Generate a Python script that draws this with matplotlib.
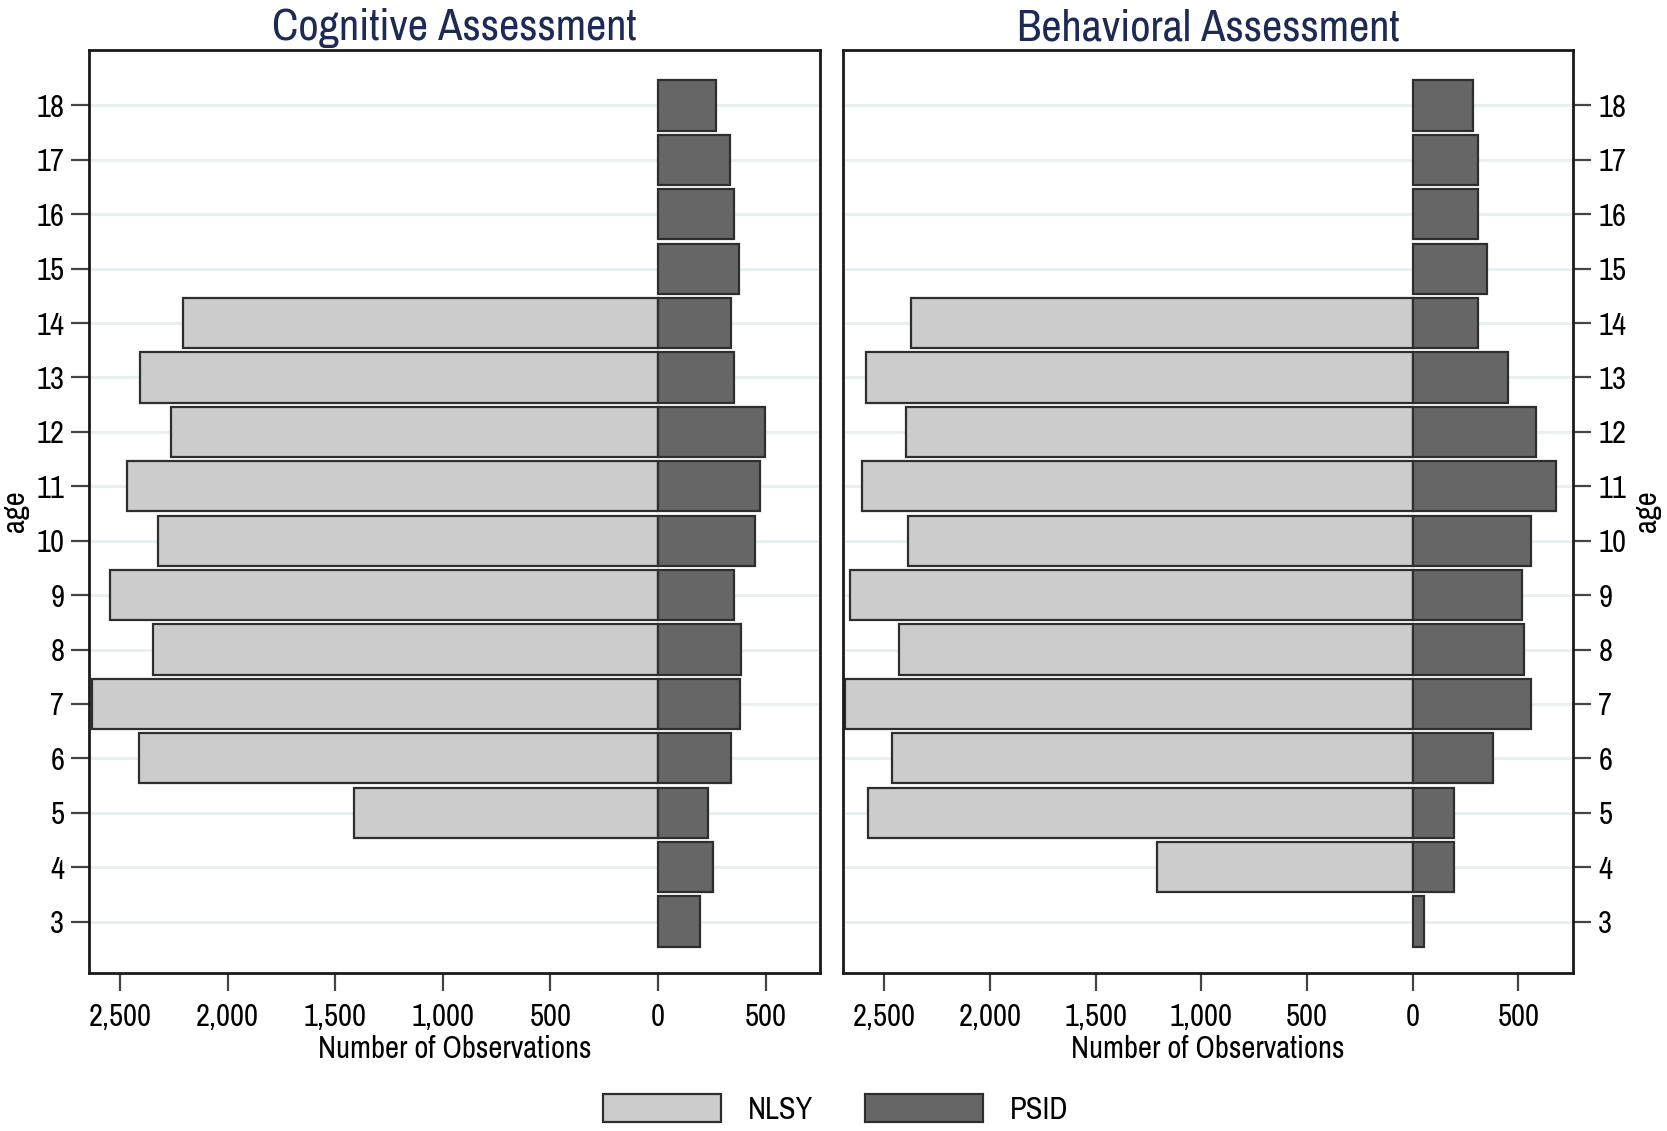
import numpy as np
import matplotlib
matplotlib.use("Agg")
import matplotlib.pyplot as plt
from matplotlib import font_manager
from matplotlib.ticker import FuncFormatter
from matplotlib.patches import Patch

# data
ages = list(range(3, 19))
cog_nlsy = [0, 0, 1413, 2411, 2633, 2347, 2549, 2322, 2470, 2263, 2406, 2208, 0, 0, 0, 0]
cog_psid = [195, 255, 230, 340, 380, 385, 355, 450, 475, 495, 355, 340, 375, 355, 335, 270]
beh_nlsy = [0, 1212, 2580, 2465, 2686, 2429, 2661, 2389, 2605, 2399, 2585, 2374, 0, 0, 0, 0]
beh_psid = [55, 195, 195, 380, 560, 525, 515, 560, 680, 585, 450, 310, 350, 310, 310, 285]
titles = ["Cognitive Assessment", "Behavioral Assessment"]
x_ticks = [-2500, -2000, -1500, -1000, -500, 0, 500]

# look for a narrow face (the original looks like Arial Narrow)
narrow = None
for f in font_manager.fontManager.ttflist:
    if "Narrow" in f.name or "Condensed" in f.name:
        narrow = (f.name, "normal")
        break
if narrow is None:
    for f in font_manager.fontManager.ttflist:
        if f.stretch in ("condensed", "semi-condensed", 75, 87) and f.weight in ("normal", 400):
            narrow = (f.name, "condensed")
            break

if narrow:
    plt.rcParams["font.family"] = [narrow[0], "DejaVu Sans"]
    plt.rcParams["font.stretch"] = narrow[1]
    fs = 22
else:
    plt.rcParams["font.family"] = ["Liberation Sans", "DejaVu Sans"]
    fs = 20

light = "#cccccc"
dark = "#666666"
edge = "#2e2e2e"
navy = "#1c2a55"

fig = plt.figure(figsize=(16.67, 11.31), dpi=100)
ax1 = fig.add_axes([0.0536, 0.140, 0.4381, 0.8158])
ax2 = fig.add_axes([0.5057, 0.140, 0.4381, 0.8158])

panels = [(ax1, cog_nlsy, cog_psid, (-2643, 751)),
          (ax2, beh_nlsy, beh_psid, (-2696, 760))]

for i, (ax, nlsy, psid, xl) in enumerate(panels):
    y = np.array(ages)
    for a in ages:
        ax.axhline(a, color="#e8f1f2", lw=2.2, zorder=0)
    n = np.array(nlsy, dtype=float)
    mask = n > 0
    ax.barh(y[mask], -n[mask], height=0.92, color=light, edgecolor=edge, lw=1.6, zorder=2)
    ax.barh(y, psid, height=0.92, color=dark, edgecolor=edge, lw=1.6, zorder=2)
    ax.set_xlim(*xl)
    ax.set_ylim(2.06, 19.02)
    ax.set_xticks(x_ticks)
    ax.xaxis.set_major_formatter(FuncFormatter(lambda v, p: f"{abs(int(v)):,}"))
    ax.set_yticks(ages)
    ax.tick_params(axis="both", labelsize=fs, length=13, width=1.6, color="#444444",
                   direction="out", pad=5)
    ax.tick_params(axis="x", pad=9)
    for s in ax.spines.values():
        s.set_linewidth(2)
        s.set_color("#1a1a1a")
    ax.set_xlabel("Number of Observations", fontsize=fs, labelpad=3)
    ax.set_title(titles[i], fontsize=fs + 10, color=navy, pad=7)
    if i == 1:
        ax.yaxis.tick_right()
        ax.yaxis.set_label_position("right")
        ax.set_ylabel("age", fontsize=fs, labelpad=5, rotation=90)
    else:
        ax.set_ylabel("age", fontsize=fs, labelpad=5)

handles = [Patch(facecolor=light, edgecolor=edge, lw=1.6, label="NLSY"),
           Patch(facecolor=dark, edgecolor=edge, lw=1.6, label="PSID")]
fig.legend(handles=handles, loc="center", bbox_to_anchor=(0.5014, 0.0195), ncol=2,
           frameon=False, fontsize=fs, handlelength=118 / (fs * 100 / 72),
           handleheight=31 / (fs * 100 / 72) * 1.0,
           handletextpad=0.87, columnspacing=1.7)

fig.savefig("out.png", dpi=100)
